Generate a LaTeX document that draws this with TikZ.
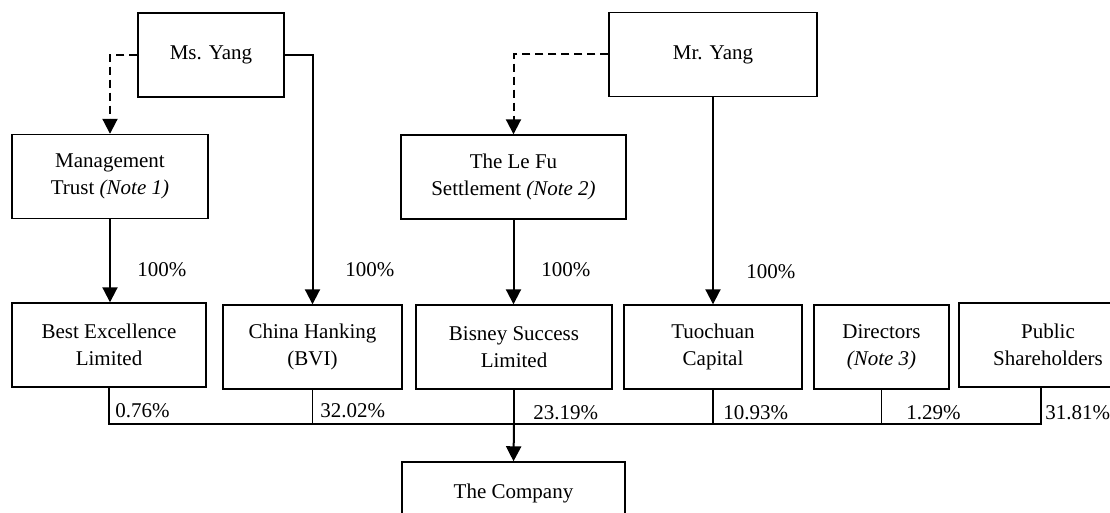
\documentclass[tikz,border=0pt]{standalone}
\usepackage{fontspec}
\setmainfont{Liberation Serif}
\usepackage{tikz}
\usetikzlibrary{arrows.meta, positioning, calc}

\begin{document}
\begin{tikzpicture}[x=0.5pt, y=-0.5pt,
    font=\fontsize{10.5}{13.5}\selectfont,
    entity/.style={draw, line width=0.7pt, align=center, inner sep=0pt,
                   minimum height=42pt},
    pct/.style={inner sep=0pt, anchor=west},
    own/.style={line width=1pt, -{Triangle[length=7.5pt, width=7.5pt]}},
    ctrl/.style={own, dash pattern=on 4pt off 2.5pt},
    link/.style={line width=0.7pt},
    trunk/.style={line width=1.2pt}]
  \useasboundingbox (0,0) rectangle (1110,513);
  \clip (0,0) rectangle (1110,513);

  % Top row --- the two founders
  \node[entity, minimum width=73pt]  (msyang) at (211,55)   {Ms. Yang};
  \node[entity, minimum width=104pt] (mryang) at (713,54.5) {Mr. Yang};

  % Trusts
  \node[entity, minimum width=98pt]    (mgmt) at (110,176.5)
    {Management\\Trust \textit{(Note 1)}};
  \node[entity, minimum width=112.5pt] (lefu) at (513.5,177)
    {The Le Fu\\Settlement \textit{(Note 2)}};

  % Shareholders
  \node[entity, minimum width=97pt]   (best)   at (109,345)   {Best Excellence\\Limited};
  \node[entity, minimum width=89.5pt] (china)  at (312.5,347) {China Hanking\\(BVI)};
  \node[entity, minimum width=98pt]   (bisney) at (514,347)   {Bisney Success\\Limited};
  \node[entity, minimum width=89pt]   (tuo)    at (713,347)   {Tuochuan\\Capital};
  \node[entity, minimum width=67.5pt] (dir)    at (881.5,347) {Directors\\\textit{(Note 3)}};
  \node[entity, minimum width=89pt]   (pub)    at (1048,345)  {Public\\Shareholders};

  % Listed company
  \node[entity, minimum width=111.5pt, minimum height=31pt] (company) at (513.5,493)
    {The Company};

  % Control (dashed) and ownership arrows
  \draw[ctrl] (msyang.west) -| (mgmt.north);
  \draw[ctrl] (mryang.west) -| (lefu.north);
  \draw[own] (msyang.east) -| (china.north);
  \draw[own] (mryang.south) -- (tuo.north);
  \draw[own] (mgmt.south) -- (mgmt.south |- best.north);
  \draw[own] (lefu.south) -- (lefu.south |- bisney.north);

  \foreach \name/\x/\y in {pa/137/270, pb/345/270, pc/541/270, pd/746/272}
    \node[pct] (\name) at (\x,\y) {100\%};

  % Shareholding bus into the company
  \coordinate (bus) at (514,424);
  \draw[link] (best.south) |- (china.south |- bus);
  \draw[link] (china.south) -- (china.south |- bus);
  \draw[link] (bisney.south) -- (bus);
  \draw[link] (tuo.south) -- (tuo.south |- bus);
  \draw[link] (dir.south) -- (dir.south |- bus);
  \draw[link] ([xshift=-3.5pt]pub.south) |- (dir.south |- bus);
  \draw[trunk] (china.south |- bus) -- (dir.south |- bus);
  \draw[own] (bus) -- (company.north);

  \foreach \name/\x/\y/\v in {sa/115/411/0.76, sb/320/411/32.02, sc/533/413/23.19,
                              sd/723/413/10.93, se/906/413/1.29, sf/1045/413/31.81}
    \node[pct] (\name) at (\x,\y) {\v\%};
\end{tikzpicture}
\end{document}
